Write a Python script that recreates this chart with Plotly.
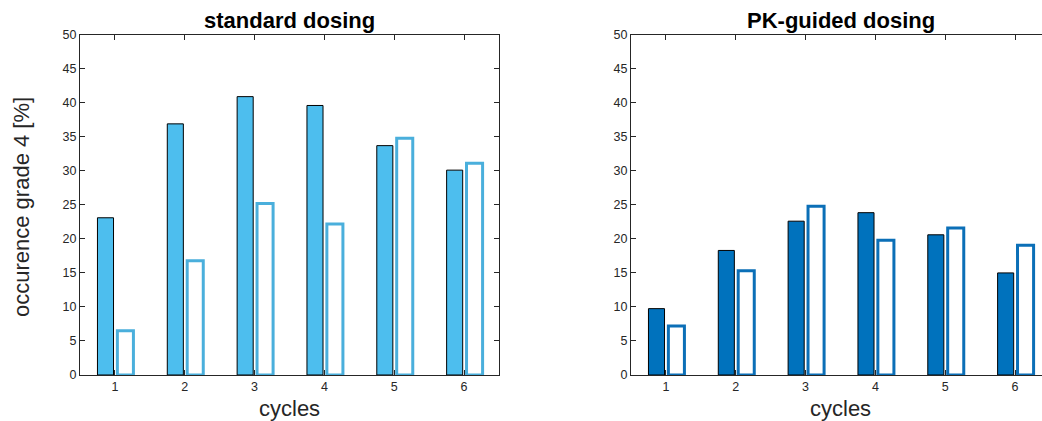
import plotly.graph_objects as go

cycles = [1, 2, 3, 4, 5, 6]
std_filled = [23.1, 36.9, 40.9, 39.6, 33.7, 30.1]
std_hollow = [6.5, 16.8, 25.2, 22.2, 34.8, 31.1]
pk_filled = [9.75, 18.3, 22.6, 23.85, 20.6, 15.0]
pk_hollow = [7.2, 15.3, 24.8, 19.8, 21.6, 19.05]
y_ticks = [0, 5, 10, 15, 20, 25, 30, 35, 40, 45, 50]

W, H = 1042, 421
FONT = "Liberation Sans, Arial, sans-serif"
LIGHT = "#4DBEEE"
LIGHT_EDGE = "#4AAFDC"
DARK = "#0072BD"
DARK_EDGE = "#0B6FB7"

fig = go.Figure()
fig.add_bar(x=cycles, y=std_filled, offset=-0.25, width=0.23,
            marker=dict(color=LIGHT, line=dict(color="black", width=1)),
            xaxis="x", yaxis="y", showlegend=False)
fig.add_bar(x=cycles, y=std_hollow, offset=0.035, width=0.23,
            marker=dict(color="white", line=dict(color=LIGHT_EDGE, width=3)),
            xaxis="x", yaxis="y", showlegend=False)
fig.add_bar(x=cycles, y=pk_filled, offset=-0.25, width=0.23,
            marker=dict(color=DARK, line=dict(color="black", width=1)),
            xaxis="x2", yaxis="y2", showlegend=False)
fig.add_bar(x=cycles, y=pk_hollow, offset=0.035, width=0.23,
            marker=dict(color="white", line=dict(color=DARK_EDGE, width=3)),
            xaxis="x2", yaxis="y2", showlegend=False)

ydom = [1 - 375 / H, 1 - 34.7 / H]
axcommon = dict(showline=True, linecolor="#262626", linewidth=1, ticks="inside",
                ticklen=5, tickcolor="#262626", tickwidth=1, showgrid=False,
                zeroline=False, automargin=False,
                tickfont=dict(family=FONT, size=12.5, color="#262626"))

fig.update_layout(
    template="none",
    width=W, height=H, margin=dict(l=0, r=0, t=0, b=0, pad=0),
    paper_bgcolor="white", plot_bgcolor="white", barmode="overlay",
    xaxis=dict(domain=[80 / W, 499 / W], range=[0.5, 6.5], tickvals=cycles,
               mirror="ticks", anchor="y", **axcommon),
    yaxis=dict(domain=ydom, range=[0, 50], tickvals=y_ticks, mirror="ticks",
               anchor="x", **axcommon),
    xaxis2=dict(domain=[631 / W, 1.0], range=[0.5, 0.5 + 411 / (419 / 6)],
                tickvals=cycles, mirror="ticks", anchor="y2", **axcommon),
    yaxis2=dict(domain=ydom, range=[0, 50], tickvals=y_ticks, mirror=False,
                anchor="x2", **axcommon),
)

ann = [
    dict(text="<b>standard dosing</b>", x=289.5 / W, y=1 - 20 / H, size=22, color="black", angle=0),
    dict(text="<b>PK-guided dosing</b>", x=840.5 / W, y=1 - 20 / H, size=22, color="black", angle=0),
    dict(text="cycles", x=289.5 / W, y=1 - 408 / H, size=22, color="#262626", angle=0),
    dict(text="cycles", x=840.5 / W, y=1 - 408 / H, size=22, color="#262626", angle=0),
    dict(text="occurence grade 4 [%]", x=21 / W, y=1 - 207 / H, size=22, color="#262626", angle=-90),
]
for a in ann:
    fig.add_annotation(text=a["text"], x=a["x"], y=a["y"], xref="paper", yref="paper",
                       xanchor="center", yanchor="middle", showarrow=False,
                       textangle=a["angle"],
                       font=dict(family=FONT, size=a["size"], color=a["color"]))

fig.write_html("out.html")
